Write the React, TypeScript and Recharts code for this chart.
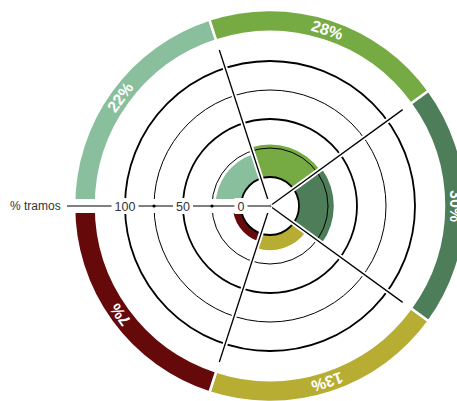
import React from 'react';
import {
  Cell,
  Pie,
  PieChart,
  PolarAngleAxis,
  PolarGrid,
  PolarRadiusAxis,
  RadialBar,
  RadialBarChart,
} from 'recharts';

const categories = ['22%', '28%', '30%', '13%', '7%'];
const shares = [22, 28, 30, 13, 7];
const colors = ['#8abf9e', '#76ab43', '#4e7d5a', '#b7ad33', '#66090a'];
const majorTicks = [0, 50, 100];
const minorTicks = [25, 75];
const axisTicks = [0, 25, 50, 75, 100];
const axisTitle = '% tramos';

// every sector gets the same angular slot, like the band scale of the bars
const data = categories.map((name, i) => ({ name, share: shares[i], slot: 1 }));

const W = 457;
const H = 401;
const CX = 270;
const CY = 206;
const R0 = 29; // radius of value 0
const R100 = 145; // radius of value 100
const RING_IN = 174;
const RING_OUT = 196;
const SPOKE = 164;
const AXIS_END = 203;
const FONT = '"Liberation Sans", Arial, Helvetica, sans-serif';
const RAD = Math.PI / 180;

const perUnit = (R100 - R0) / 100;
const axisDomain: [number, number] = [-R0 / perUnit, (AXIS_END - R0) / perUnit];
// the axis line spans its tick extent, so the domain ends are ticks too (drawn empty)
const axisLineTicks = [axisDomain[0], ...axisTicks, axisDomain[1]];

// the centric bars grow counter-clockwise from their band start
const step = 360 / categories.length;
const barStart = 180 - step;

const layer: React.CSSProperties = { position: 'absolute', left: 0, top: 0 };
const polar = {
  width: W,
  height: H,
  cx: CX,
  cy: CY,
  startAngle: 180,
  endAngle: -180,
  margin: { top: 0, right: 0, bottom: 0, left: 0 },
};
const noAxis = { tick: false, tickLine: false, axisLine: false } as const;

const ringLabel = (p: any) => {
  const r = (p.innerRadius + p.outerRadius) / 2;
  const x = p.cx + r * Math.cos(-p.midAngle * RAD);
  const y = p.cy + r * Math.sin(-p.midAngle * RAD);
  const name = p.name ?? p.payload?.name;
  return (
    <text
      x={x}
      y={y}
      transform={`rotate(${90 - p.midAngle}, ${x}, ${y})`}
      textAnchor="middle"
      dominantBaseline="central"
      fill="#fff"
      fontWeight="bold"
      fontSize={16}
      fontFamily={FONT}
    >
      {name}
    </text>
  );
};

const spokeLabel = (p: any) => {
  const x = p.cx + p.outerRadius * Math.cos(-p.startAngle * RAD);
  const y = p.cy + p.outerRadius * Math.sin(-p.startAngle * RAD);
  return (
    <g>
      <line x1={p.cx} y1={p.cy} x2={x} y2={y} stroke="#fff" strokeWidth={5} />
      <line x1={p.cx} y1={p.cy} x2={x} y2={y} stroke="#000" strokeWidth={1.3} />
    </g>
  );
};

const RadiusTick = ({ x, y, payload }: any) => {
  const v = payload.value;
  if (!axisTicks.includes(v)) return <g />;
  if (v % 50 !== 0) return <circle cx={x} cy={y} r={1.6} fill="#000" />;
  const label = String(v);
  const w = label.length * 7 + 6;
  return (
    <g>
      <rect x={x - w / 2} y={y - 8} width={w} height={16} fill="#fff" />
      <text x={x} y={y} dy={4.5} textAnchor="middle" fontSize={12.5} fill="#333" fontFamily={FONT}>
        {label}
      </text>
    </g>
  );
};

const GridLayer = ({ ticks, width }: { ticks: number[]; width: number }) => (
  <div style={layer}>
    <RadialBarChart {...polar} layout="centric" data={data} innerRadius={R0} outerRadius={R100}>
      <PolarAngleAxis type="category" dataKey="name" {...noAxis} />
      <PolarRadiusAxis type="number" domain={[0, 100]} ticks={ticks} allowDataOverflow {...noAxis} />
      <PolarGrid gridType="circle" radialLines={false} stroke="#000" strokeWidth={width} />
    </RadialBarChart>
  </div>
);

export default function App() {
  return (
    <div style={{ position: 'absolute', left: 0, top: 0, width: W, height: H, background: '#fff', overflow: 'hidden' }}>
      {/* rose bars */}
      <div style={layer}>
        <RadialBarChart
          {...polar}
          startAngle={barStart}
          endAngle={barStart - 360}
          layout="centric"
          data={data}
          innerRadius={R0}
          outerRadius={R100}
          barCategoryGap={0}
        >
          <PolarAngleAxis type="category" dataKey="name" {...noAxis} />
          <PolarRadiusAxis type="number" domain={[0, 100]} allowDataOverflow {...noAxis} />
          <RadialBar dataKey="share" isAnimationActive={false}>
            {data.map((d, i) => (
              <Cell key={d.name} fill={colors[i]} />
            ))}
          </RadialBar>
        </RadialBarChart>
      </div>

      <GridLayer ticks={minorTicks} width={1} />
      <GridLayer ticks={majorTicks} width={1.8} />

      {/* outer ring + spokes */}
      <div style={layer}>
        <PieChart width={W} height={H} margin={{ top: 0, right: 0, bottom: 0, left: 0 }}>
          <Pie
            data={data}
            dataKey="slot"
            nameKey="name"
            cx={CX}
            cy={CY}
            startAngle={180}
            endAngle={-180}
            innerRadius={RING_IN}
            outerRadius={RING_OUT}
            stroke="#fff"
            strokeWidth={2.5}
            label={ringLabel}
            labelLine={false}
            isAnimationActive={false}
          >
            {data.map((d, i) => (
              <Cell key={d.name} fill={colors[i]} />
            ))}
          </Pie>
          <Pie
            data={data}
            dataKey="slot"
            nameKey="name"
            cx={CX}
            cy={CY}
            startAngle={180}
            endAngle={-180}
            innerRadius={0}
            outerRadius={SPOKE}
            fill="none"
            stroke="none"
            label={spokeLabel}
            labelLine={false}
            isAnimationActive={false}
          />
        </PieChart>
      </div>

      {/* radius axis */}
      <div style={layer}>
        <RadialBarChart {...polar} layout="centric" data={data} innerRadius={0} outerRadius={AXIS_END}>
          <PolarAngleAxis type="category" dataKey="name" {...noAxis} />
          <PolarRadiusAxis
            radiusAxisId="strip"
            angle={180}
            type="number"
            domain={axisDomain}
            allowDataOverflow
            ticks={axisDomain}
            tick={false}
            tickLine={false}
            axisLine={{ stroke: '#fff', strokeWidth: 14 }}
          />
          <PolarRadiusAxis
            radiusAxisId="scale"
            angle={180}
            type="number"
            domain={axisDomain}
            allowDataOverflow
            ticks={axisLineTicks}
            tick={RadiusTick}
            tickLine={false}
            axisLine={{ stroke: '#000', strokeWidth: 1.2 }}
          />
        </RadialBarChart>
      </div>

      <div
        style={{
          position: 'absolute',
          left: 10,
          top: CY - 8,
          fontFamily: FONT,
          fontSize: 12,
          color: '#333',
          lineHeight: '16px',
        }}
      >
        {axisTitle}
      </div>
    </div>
  );
}
